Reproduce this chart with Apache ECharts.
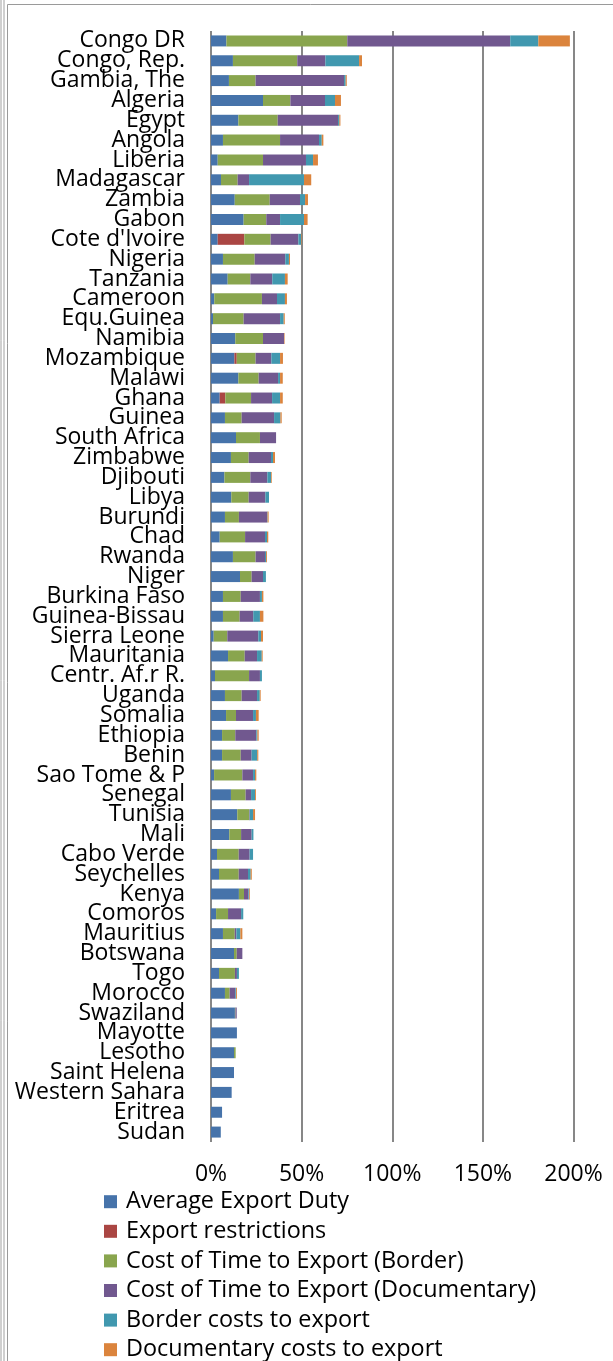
<!DOCTYPE html>
<html>
<head>
<meta charset="utf-8">
<script src="https://cdn.jsdelivr.net/npm/echarts@6/dist/echarts.min.js"></script>
<style>
  html, body { margin: 0; padding: 0; background: #fff; }
  #chart { width: 613px; height: 1361px; }
</style>
</head>
<body>
<div id="chart"></div>
<script>
// Countries, top to bottom
const countries = [
  "Congo DR", "Congo, Rep.", "Gambia, The", "Algeria", "Egypt", "Angola", "Liberia",
  "Madagascar", "Zambia", "Gabon", "Cote d'Ivoire", "Nigeria", "Tanzania", "Cameroon",
  "Equ.Guinea", "Namibia", "Mozambique", "Malawi", "Ghana", "Guinea", "South Africa",
  "Zimbabwe", "Djibouti", "Libya", "Burundi", "Chad", "Rwanda", "Niger", "Burkina Faso",
  "Guinea-Bissau", "Sierra Leone", "Mauritania", "Centr. Af.r R.", "Uganda", "Somalia",
  "Ethiopia", "Benin", "Sao Tome & P", "Senegal", "Tunisia", "Mali", "Cabo Verde",
  "Seychelles", "Kenya", "Comoros", "Mauritius", "Botswana", "Togo", "Morocco",
  "Swaziland", "Mayotte", "Lesotho", "Saint Helena", "Western Sahara", "Eritrea", "Sudan"
];

// Components of export costs, in percent
const averageExportDuty = [
  8.5, 12.1, 9.9, 28.7, 15.1, 6.6, 3.7, 5.5, 13.1, 18.0, 3.7, 6.6, 9.2, 1.8,
  1.1, 13.4, 12.9, 15.1, 4.8, 7.7, 13.8, 11.0, 7.4, 11.2, 7.7, 4.8, 12.1, 16.0, 6.6,
  6.6, 1.5, 9.4, 2.2, 7.7, 8.3, 6.1, 6.1, 1.7, 11.0, 14.5, 10.1, 3.3,
  4.4, 15.4, 2.8, 6.6, 12.7, 4.4, 7.7, 13.2, 14.3, 12.7, 12.7, 11.4, 6.1, 5.4
];
const exportRestrictions = [
  0, 0, 0, 0, 0, 0, 0, 0, 0, 0, 14.7, 0, 0, 0,
  0, 0, 1.3, 0, 3.1, 0, 0, 0, 0, 0, 0, 0, 0, 0, 0,
  0, 0, 0, 0, 0, 0, 0, 0, 0, 0, 0, 0, 0,
  0, 0, 0, 0, 0, 0, 0, 0, 0, 0, 0, 0, 0, 0
];
const timeBorder = [
  66.7, 35.5, 14.7, 15.1, 21.7, 31.5, 25.0, 9.2, 19.3, 12.5, 14.5, 17.5, 12.5, 26.3,
  16.9, 15.3, 10.4, 11.2, 14.2, 9.2, 13.2, 9.8, 14.3, 9.6, 7.7, 14.0, 12.5, 6.4, 9.8,
  9.2, 7.5, 9.2, 18.8, 9.2, 5.5, 7.3, 10.3, 15.6, 8.1, 6.6, 6.5, 12.0,
  10.9, 2.8, 6.6, 6.5, 1.5, 8.8, 2.6, 0.3, 0, 0.9, 0, 0, 0, 0
];
const timeDocumentary = [
  89.9, 15.5, 48.8, 19.1, 33.3, 21.5, 23.7, 6.3, 16.7, 7.6, 15.3, 16.9, 12.1, 8.3,
  20.1, 11.6, 8.7, 10.7, 11.6, 17.9, 8.9, 12.3, 9.4, 9.2, 15.5, 11.0, 5.2, 6.3, 10.6,
  7.5, 17.1, 6.8, 6.0, 8.5, 9.4, 11.6, 6.0, 5.9, 3.0, 0.3, 5.8, 6.0,
  5.1, 2.4, 7.2, 0.9, 3.1, 1.1, 3.1, 0.7, 0, 0, 0, 0, 0, 0
];
const borderCosts = [
  15.5, 18.6, 0.9, 5.5, 0.7, 1.5, 3.9, 30.3, 2.8, 13.2, 1.5, 2.0, 7.0, 4.4,
  2.0, 0, 4.8, 1.1, 4.4, 3.5, 0, 1.1, 2.0, 2.0, 0.3, 1.1, 0.6, 1.6, 1.1,
  3.7, 1.5, 2.6, 1.1, 1.5, 1.6, 0.6, 3.1, 1.1, 2.2, 1.8, 1.0, 1.9,
  1.5, 0.5, 1.2, 2.2, 0, 1.1, 0.4, 0, 0, 0, 0, 0, 0, 0
];
const documentaryCosts = [
  17.4, 1.6, 0.6, 3.3, 0.6, 0.9, 2.7, 4.0, 1.6, 2.0, 0.3, 0.6, 1.5, 1.1,
  0.6, 0.3, 1.6, 1.5, 1.5, 0.7, 0, 1.1, 0.4, 0, 0.6, 0.7, 0.5, 0, 0.8,
  1.9, 1.1, 0.5, 0, 0.5, 1.5, 0.7, 0.6, 0.7, 0.5, 1.1, 0, 0,
  0.6, 0.4, 0, 1.1, 0, 0, 0.5, 0, 0, 0, 0, 0, 0, 0
];

const seriesNames = [
  "Average Export Duty",
  "Export restrictions",
  "Cost of Time to Export (Border)",
  "Cost of Time to Export (Documentary)",
  "Border costs to export",
  "Documentary costs to export"
];
const seriesData = [averageExportDuty, exportRestrictions, timeBorder, timeDocumentary, borderCosts, documentaryCosts];
const colors = ["#4673AA", "#AA4643", "#89A54E", "#71588F", "#4198AF", "#DB843D"];

// Axis tick values (percent)
const xMin = 0, xMax = 200, xStep = 50;

const FONT = "'Open Sans', 'Noto Sans', sans-serif";
const chart = echarts.init(document.getElementById('chart'), null, { renderer: 'canvas' });

chart.setOption({
  backgroundColor: '#ffffff',
  animation: false,
  color: colors,
  textStyle: { fontFamily: FONT, color: '#000' },
  grid: { left: 211, top: 31, width: 362.5, height: 1111, containLabel: false },
  xAxis: {
    type: 'value',
    min: xMin, max: xMax, interval: xStep,
    axisLine: { show: false },
    axisTick: { show: false },
    splitLine: { show: true, lineStyle: { color: '#878787', width: 2 } },
    axisLabel: { formatter: '{value}%', fontSize: 23, color: '#000', fontFamily: FONT, margin: 21 }
  },
  yAxis: {
    type: 'category',
    data: countries,
    inverse: true,
    axisLine: { show: false },
    axisTick: { show: false },
    axisLabel: { fontSize: 23, color: '#000', fontFamily: FONT, margin: 26, interval: 0 }
  },
  legend: {
    orient: 'vertical',
    left: 104, top: 1190,
    width: 500, height: 190,
    padding: 0,
    itemWidth: 13, itemHeight: 13, itemGap: 6.2,
    icon: 'rect',
    data: seriesNames,
    textStyle: { fontSize: 23.4, lineHeight: 23.4, color: '#000', fontFamily: FONT, padding: [0, 0, 0, 4] }
  },
  series: seriesNames.map((name, i) => ({
    name: name,
    type: 'bar',
    stack: 'total',
    barWidth: 11,
    data: seriesData[i],
    itemStyle: { color: colors[i] }
  })),
  graphic: [
    { type: 'line', shape: { x1: 1, y1: 0, x2: 1, y2: 1361 }, style: { stroke: '#a0a0a0', lineWidth: 1 }, silent: true },
    { type: 'line', shape: { x1: 4, y1: 0, x2: 4, y2: 1361 }, style: { stroke: '#a0a0a0', lineWidth: 1 }, silent: true },
    { type: 'line', shape: { x1: 7.5, y1: 4.5, x2: 7.5, y2: 1361 }, style: { stroke: '#9a9a9a', lineWidth: 1 }, silent: true },
    { type: 'line', shape: { x1: 7.5, y1: 4.5, x2: 613, y2: 4.5 }, style: { stroke: '#9a9a9a', lineWidth: 1 }, silent: true }
  ]
});
</script>
</body>
</html>
